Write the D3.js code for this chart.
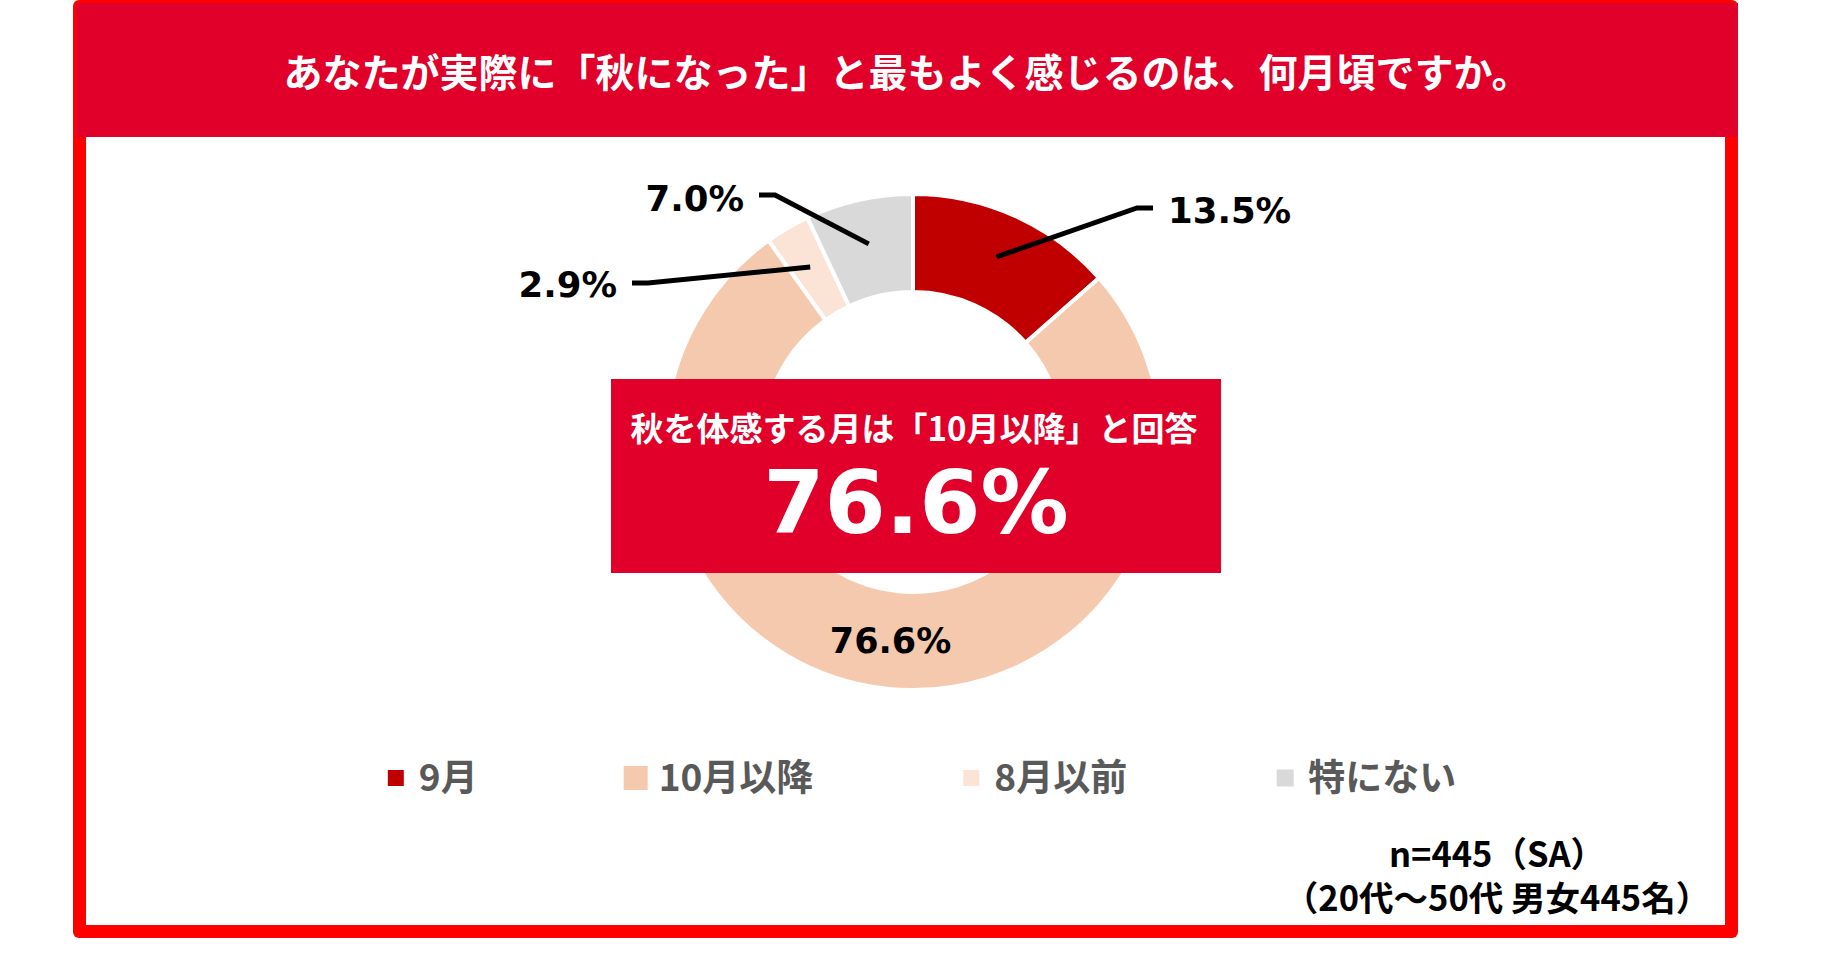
<!DOCTYPE html>
<html lang="ja">
<head>
<meta charset="UTF-8">
<title>秋を感じる月</title>
<script src="https://d3js.org/d3.v7.min.js"></script>
<style>
  html, body { margin: 0; padding: 0; background: #fff; }
  svg { display: block; }
  .jp { font-family: "Noto Sans CJK JP", "Noto Sans", sans-serif; font-weight: bold; }
  .num { font-family: "DejaVu Sans", Verdana, sans-serif; font-weight: bold; }
</style>
</head>
<body>
<script>
// データ
var categories = ["9月", "10月以降", "8月以前", "特にない"];
var shares = [13.5, 76.6, 2.9, 7.0];
var sliceColors = ["#C00000", "#F5C9AE", "#FBE4D5", "#D9D9D9"];
var titleText = "あなたが実際に「秋になった」と最もよく感じるのは、何月頃ですか。";
var calloutText = "秋を体感する月は「10月以降」と回答";
var noteLines = ["n=445（SA）", "（20代～50代 男女445名）"];

var width = 1832, height = 980;
var cx = 913, cy = 442;
var outerR = 248, innerR = 150;

var svg = d3.select("body").append("svg")
    .attr("width", width)
    .attr("height", height);

// 枠
svg.append("rect")
    .attr("x", 73).attr("y", 0)
    .attr("width", 1665).attr("height", 938)
    .attr("rx", 6)
    .attr("fill", "#FF0000");
svg.append("rect")
    .attr("x", 76).attr("y", 3)
    .attr("width", 1662).attr("height", 134)
    .attr("fill", "#E00029");
svg.append("rect")
    .attr("x", 86).attr("y", 137)
    .attr("width", 1639).attr("height", 788)
    .attr("fill", "#FFFFFF");

svg.append("text")
    .attr("class", "jp")
    .attr("x", 907).attr("y", 87)
    .attr("text-anchor", "middle")
    .attr("font-size", 39)
    .attr("fill", "#FFFFFF")
    .text(titleText);

// ドーナツ
var data = categories.map(function(c, i) { return { name: c, value: shares[i] }; });

var color = d3.scaleOrdinal()
    .domain(categories)
    .range(sliceColors);

var pie = d3.pie()
    .sort(null)
    .value(function(d) { return d.value; });

var arc = d3.arc()
    .innerRadius(innerR)
    .outerRadius(outerR);

var pointArc = d3.arc()
    .innerRadius(203)
    .outerRadius(203);

var arcs = pie(data);

var g = svg.append("g")
    .attr("transform", "translate(" + cx + "," + cy + ")");

g.selectAll("path.slice")
    .data(arcs)
    .enter().append("path")
    .attr("class", "slice")
    .attr("d", arc)
    .attr("fill", function(d) { return color(d.data.name); })
    .attr("stroke", "#FFFFFF")
    .attr("stroke-width", 4)
    .attr("stroke-linejoin", "miter");

// ラベル（引き出し線の折れ点、ドーナツ中心から）
var labelLayout = {
    "9月":     { elbow: [224, -234], side: 1,  dy: 15 },
    "8月以前": { elbow: [-265, -159], side: -1, dy: 14 },
    "特にない": { elbow: [-138, -247], side: -1, dy: 16 }
};

arcs.forEach(function(d) {
    var lay = labelLayout[d.data.name];
    var txt = d.data.value.toFixed(1) + "%";
    if (!lay) {
        var c = arc.centroid(d);
        g.append("text")
            .attr("class", "num")
            .attr("x", c[0]).attr("y", c[1] + 13)
            .attr("text-anchor", "middle")
            .attr("font-size", 35)
            .attr("fill", "#000")
            .text(txt);
        return;
    }
    var p = pointArc.centroid(d);
    var e = lay.elbow;
    var end = [e[0] + lay.side * 16, e[1]];
    g.append("polyline")
        .attr("points", [p, e, end].map(function(q) { return q.join(","); }).join(" "))
        .attr("fill", "none")
        .attr("stroke", "#000")
        .attr("stroke-width", 5);
    g.append("text")
        .attr("class", "num")
        .attr("x", end[0] + lay.side * 15)
        .attr("y", e[1] + lay.dy)
        .attr("text-anchor", lay.side > 0 ? "start" : "end")
        .attr("font-size", 35.5)
        .attr("fill", "#000")
        .text(txt);
});

// 強調ボックス
svg.append("rect")
    .attr("x", 611).attr("y", 379)
    .attr("width", 610).attr("height", 194)
    .attr("fill", "#E00029");
svg.append("text")
    .attr("class", "jp")
    .attr("x", 914).attr("y", 441)
    .attr("text-anchor", "middle")
    .attr("font-size", 33)
    .attr("fill", "#FFFFFF")
    .text(calloutText);
svg.append("text")
    .attr("class", "num")
    .attr("x", 916).attr("y", 533)
    .attr("text-anchor", "middle")
    .attr("font-size", 88)
    .attr("fill", "#FFFFFF")
    .text(shares[categories.indexOf("10月以降")].toFixed(1) + "%");

// 凡例
var markerSize = { "9月": 16, "10月以降": 24, "8月以前": 16, "特にない": 17 };
var legend = svg.append("g");
var lx = 0;
categories.forEach(function(c) {
    var s = markerSize[c];
    var item = legend.append("g").attr("transform", "translate(" + lx + ",0)");
    item.append("rect")
        .attr("x", -s / 2).attr("y", 778 - s / 2)
        .attr("width", s).attr("height", s)
        .attr("fill", color(c));
    var t = item.append("text")
        .attr("class", "jp")
        .attr("x", 23).attr("y", 791)
        .attr("font-size", 37)
        .attr("fill", "#595959")
        .text(c);
    lx += 23 + t.node().getComputedTextLength() + 158;
});
var lb = legend.node().getBBox();
legend.attr("transform", "translate(" + (922 - (lb.x + lb.width / 2)) + ",0)");

// 注記（2行）
var note = svg.append("text")
    .attr("class", "jp")
    .attr("text-anchor", "middle")
    .attr("font-size", 34.5)
    .attr("fill", "#000");
note.selectAll("tspan")
    .data(noteLines)
    .enter().append("tspan")
    .attr("x", 1497)
    .attr("y", function(d, i) { return 867 + i * 44; })
    .text(function(d) { return d; });
</script>
</body>
</html>
